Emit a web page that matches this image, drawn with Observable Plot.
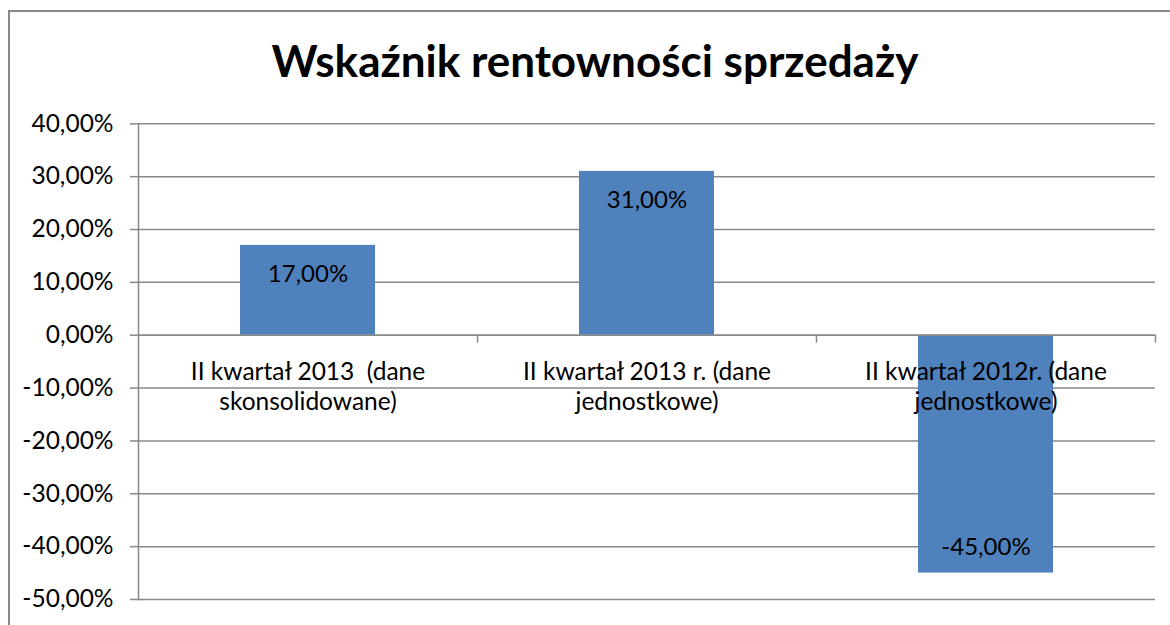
<!DOCTYPE html>
<html>
<head>
<meta charset="utf-8">
<script src="https://cdn.jsdelivr.net/npm/d3@7"></script>
<script src="https://cdn.jsdelivr.net/npm/@observablehq/plot@0.6"></script>
<style>
  html, body { margin: 0; padding: 0; background: #fff; }
  #wrap { position: relative; width: 1170px; height: 625px; overflow: hidden; background: #fff; }
  #border { position: absolute; left: 8px; top: 10px; width: 1300px; height: 900px; border: 2px solid #8a8a8a; box-sizing: border-box; }
  #title { position: absolute; left: 0; top: 38px; width: 1190px; text-align: center; font-family: Lato, sans-serif; font-weight: bold; font-size: 44px; line-height: 44px; color: #000; }
  #chart { position: absolute; left: 0; top: 100px; }
</style>
</head>
<body>
<div id="wrap">
  <div id="border"></div>
  <div id="title">Wskaźnik rentowności sprzedaży</div>
  <div id="chart"></div>
</div>
<script>
const categories = [
  "II kwartał 2013  (dane\nskonsolidowane)",
  "II kwartał 2013 r. (dane\njednostkowe)",
  "II kwartał 2012r. (dane\njednostkowe)"
];
const values = [0.17, 0.31, -0.45];
const yTicks = [-0.5, -0.4, -0.3, -0.2, -0.1, 0, 0.1, 0.2, 0.3, 0.4];

const data = categories.map((c, i) => ({cat: c, value: values[i]}));
const fmt = d => (Math.abs(d) < 1e-9 ? 0 : d * 100).toFixed(2).replace(".", ",") + "%";

const W = 1170, H = 525, mL = 138, mR = 15, mT = 23.3, mB = 26;
const step = (W - mL - mR) / categories.length;
const grey = "#898989";

const chart = Plot.plot({
  width: W,
  height: H,
  marginLeft: mL,
  marginRight: mR,
  marginTop: mT,
  marginBottom: mB,
  style: {fontFamily: "Lato, sans-serif", background: "transparent", color: "#000"},
  x: {domain: categories, paddingInner: 0.602, paddingOuter: 0.301, axis: null},
  y: {domain: [-0.5, 0.4], axis: null},
  marks: [
    Plot.gridY(yTicks, {stroke: grey, strokeOpacity: 1, strokeWidth: 1.5}),
    Plot.barY(data, {x: "cat", y: "value", fill: "#4F81BD"}),
    Plot.ruleY([0], {stroke: grey, strokeWidth: 1.5}),
    Plot.ruleX(categories, {x: d => d, dx: step / 2, y1: 0, y2: -0.015, stroke: grey, strokeWidth: 1.5}),
    Plot.frame({anchor: "left", stroke: grey, strokeWidth: 1.5}),
    Plot.axisY(yTicks, {label: null, tickSize: 8, tickPadding: 17, tickFormat: fmt, fontSize: 24.5, stroke: grey, strokeWidth: 1.5, fill: "#000"}),
    Plot.text(data, {x: "cat", y: 0, text: "cat", lineAnchor: "top", dy: 24, fontSize: 24.5, lineHeight: 1.22, fill: "#000"}),
    Plot.text(data.filter(d => d.value >= 0), {x: "cat", y: "value", text: d => fmt(d.value), dy: 29, fontSize: 24, fill: "#000"}),
    Plot.text(data.filter(d => d.value < 0), {x: "cat", y: "value", text: d => fmt(d.value), dy: -26, fontSize: 24, fill: "#000"})
  ]
});
document.getElementById("chart").appendChild(chart);
</script>
</body>
</html>
